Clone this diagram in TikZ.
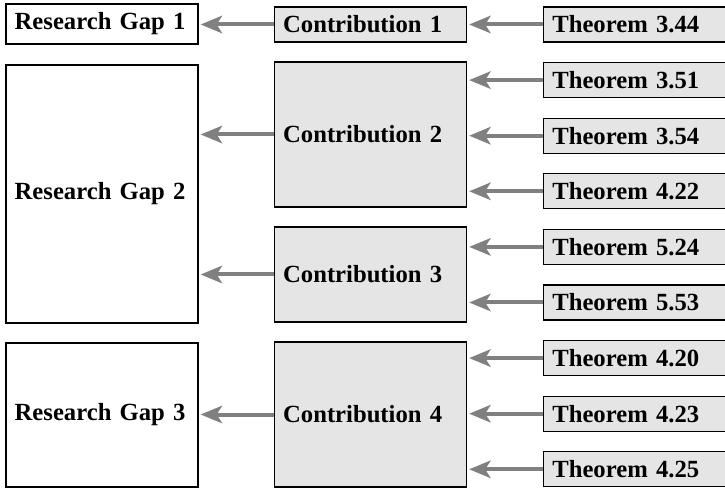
\documentclass[tikz,border=0pt]{standalone}
\usepackage{fontspec}
\setmainfont{Liberation Serif}
\usetikzlibrary{arrows.meta}
\definecolor{boxgray}{RGB}{229,229,229}
\definecolor{arrowgray}{RGB}{128,128,128}

\begin{document}
\begin{tikzpicture}[x=0.75pt,y=-0.75pt,>={Stealth[length=16pt,width=13pt,inset=4pt]},
    box/.style={draw,line width=1pt,text width=131pt,inner xsep=6.5pt,align=left,
        font=\fontsize{18.5}{22}\selectfont\bfseries},
    gap/.style={box,fill=white},
    contrib/.style={box,fill=boxgray},
    thm/.style={box,fill=boxgray,anchor=west,minimum height=26.25pt},
    link/.style={->,draw=arrowgray,line width=3pt,shorten >=1.5pt}]
    \useasboundingbox (0,0) rectangle (725,488);
    \clip (0,0) rectangle (725,488);

    % research gaps
    \node[gap,minimum height=30pt] (g1) at (102,24) {Research Gap 1};
    \node[gap,minimum height=193.5pt] (g2) at (102,194) {Research Gap 2};
    \node[gap,minimum height=108pt] (g3) at (102,415) {Research Gap 3};

    % contributions
    \node[contrib,minimum height=26.25pt] (c1) at (370.5,24.5) {Contribution 1};
    \node[contrib,minimum height=108.75pt] (c2) at (370.5,134.5) {Contribution 2};
    \node[contrib,minimum height=71.25pt] (c3) at (370.5,274.5) {Contribution 3};
    \node[contrib,minimum height=108.75pt] (c4) at (370.5,414.5) {Contribution 4};

    % theorems
    \foreach \lab [count=\i] in {3.44,3.51,3.54,4.22,5.24,5.53,4.20,4.23,4.25}
        \node[thm] (t\i) at (543,{24.5+55.6*(\i-1)}) {Theorem \lab};

    \draw[link] (t1.west) -- (t1.west -| c1.east);
    \foreach \i in {2,3,4}
        \draw[link] (t\i.west) -- (t\i.west -| c2.east);
    \foreach \i in {5,6}
        \draw[link] (t\i.west) -- (t\i.west -| c3.east);
    \foreach \i in {7,8,9}
        \draw[link] (t\i.west) -- (t\i.west -| c4.east);

    \draw[link] (c1.west) -- (c1.west -| g1.east);
    \draw[link] (c2.west) -- (c2.west -| g2.east);
    \draw[link] (c3.west) -- (c3.west -| g2.east);
    \draw[link] (c4.west) -- (c4.west -| g3.east);
\end{tikzpicture}
\end{document}
